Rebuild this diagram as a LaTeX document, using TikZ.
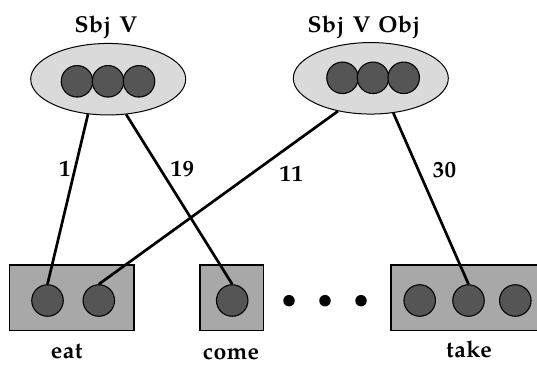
\documentclass[tikz,border=0pt]{standalone}
\usepackage{fontspec}
\setmainfont{TeX Gyre Pagella}[LetterSpace=2, WordSpace=1.3]
\usetikzlibrary{shapes.geometric}
\definecolor{ellfill}{HTML}{DADADA}
\definecolor{ballfill}{HTML}{555555}
\definecolor{boxfill}{HTML}{A8A8A8}
\tikzset{
  ell/.style={ellipse, draw=black, line width=1pt, fill=ellfill, minimum width=155pt, minimum height=71.5pt, inner sep=0pt},
  ball/.style={circle, draw=black, line width=1.1pt, fill=ballfill, minimum size=31.5pt, inner sep=0pt},
  blob/.style={circle, fill=black, minimum size=11.5pt, inner sep=0pt},
  wordbox/.style={rectangle, draw=black, line width=1.1pt, fill=boxfill, minimum height=65.7pt, inner sep=0pt},
  conn/.style={line width=2.7pt},
  txt/.style={font=\fontsize{23}{25}\selectfont\bfseries, inner sep=0pt, anchor=base},
  lbl/.style={font=\fontsize{23}{25}\selectfont\bfseries, inner sep=0pt}
}
\begin{document}
\begin{tikzpicture}[x=1pt,y=-1pt]
\useasboundingbox (0,0) rectangle (537,364);
\clip (0,0) rectangle (537,364);
% top clusters
\node[txt] (t1) at (106,32.5) {Sbj V};
\node[txt] (t2) at (364,32.5) {Sbj V Obj};
\node[ell] (e1) at (108.2,79.2) {};
\node[ell] (e2) at (370.8,78.3) {};
\node[ball] (e1a) at (77,81.3) {};
\node[ball] (e1b) at (108,81.3) {};
\node[ball] (e1c) at (139,81.3) {};
\node[ball] (e2a) at (342.5,77.8) {};
\node[ball] (e2b) at (373,77.8) {};
\node[ball] (e2c) at (403.7,77.8) {};
% bottom boxes
\node[wordbox, minimum width=124.7pt] (beat) at (71.65,297.85) {};
\node[wordbox, minimum width=63.3pt] (bcome) at (231.65,297.85) {};
\node[wordbox, minimum width=160pt] (btake) at (471,297.85) {};
\node[ball] (ea) at (47.5,300.5) {};
\node[ball] (eb) at (98.8,300.5) {};
\node[ball] (ca) at (232.2,300.5) {};
\node[ball] (ta) at (419.7,300.5) {};
\node[ball] (tb) at (468.5,300.5) {};
\node[ball] (tc) at (515.3,300.5) {};
\node[blob] (d1) at (289,300.7) {};
\node[blob] (d2) at (325,300.7) {};
\node[blob] (d3) at (361,300.7) {};
\node[txt] (weat) at (66.7,358.5) {eat};
\node[txt] (wcome) at (231,359) {come};
\node[txt] (wtake) at (469,357.5) {take};
% connectors
\draw[conn] (e1.240) -- node[lbl, pos=0.323, left=3pt] (n1) {1} (ea.north);
\draw[conn] (e1.297) -- node[lbl, pos=0.322, right=9pt] (n19) {19} (ca.north);
\draw[conn] (e2.225) -- node[lbl, pos=0.195, below=20pt] (n11) {11} (eb.north);
\draw[conn] (e2.303.5) -- node[lbl, pos=0.334, right=13pt] (n30) {30} (tb.north);
\end{tikzpicture}
\end{document}
